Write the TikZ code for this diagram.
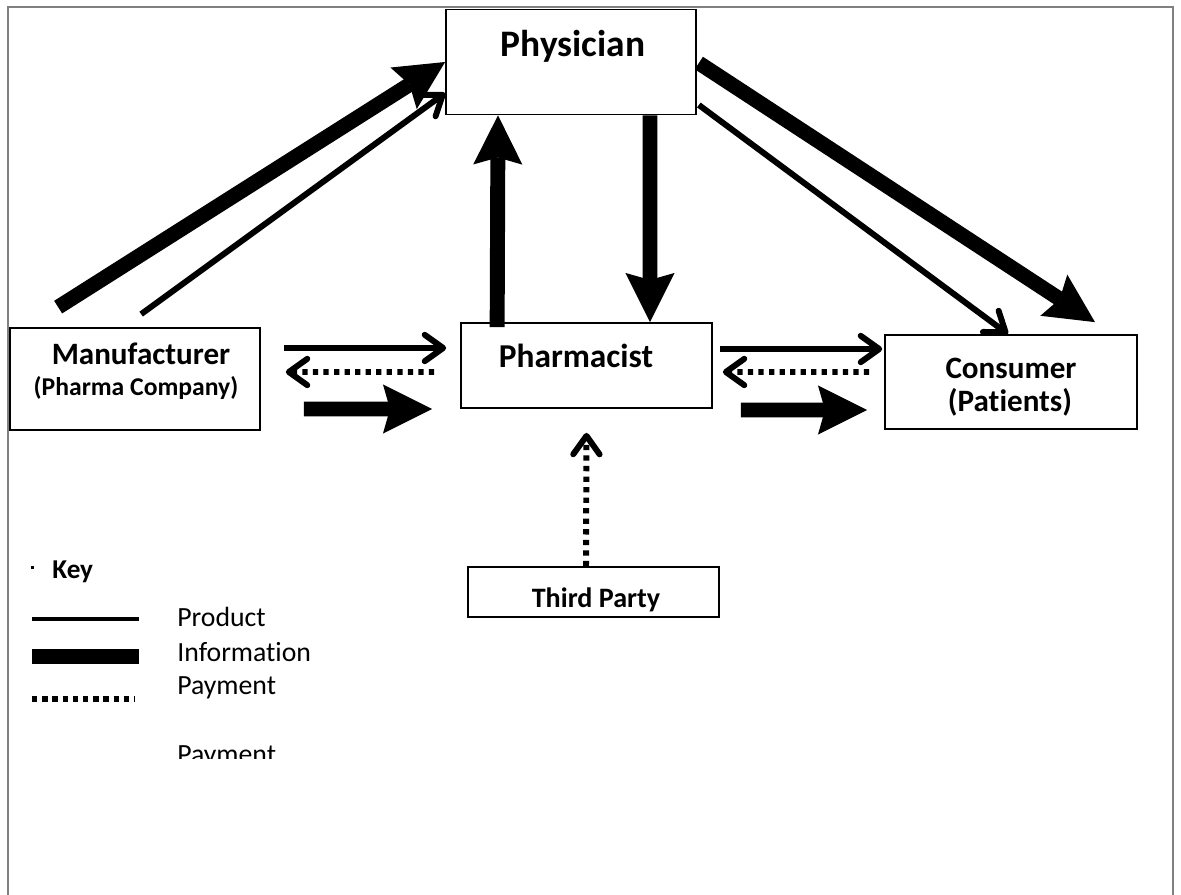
\documentclass[tikz,border=0pt]{standalone}
\usepackage{fontspec}
\setmainfont{Carlito}[Ligatures=NoCommon]
\usetikzlibrary{arrows.meta,calc}

\tikzset{
  box/.style={draw, line width=1pt, inner sep=0pt},
  info/.style={line width=8.5pt, -{Stealth[length=28pt,width=28pt,inset=4pt,line width=0pt]}},
  prod/.style={line width=3.4pt, -{Straight Barb[length=10.5pt,width=15pt,round]}},
  pay/.style={prod, dash pattern=on 3pt off 3pt},
  keytxt/.style={font=\fontsize{15.8}{19}\selectfont, anchor=base west, inner sep=0pt},
}

\begin{document}
\begin{tikzpicture}[x=0.02cm,y=-0.02cm]
  \useasboundingbox (0,0) rectangle (1181,895);
  % rahmen
  \draw[gray, line width=1pt] (8,895) -- (8,7) -- (1173,7) -- (1173,895);

  % boxes
  \node[box, minimum width=5cm, minimum height=2.1cm] (phys) at (571,62) {};
  \node[box, minimum width=5cm, minimum height=2.04cm] (manu) at (135,379) {};
  \node[box, minimum width=5.02cm, minimum height=1.7cm] (pharm) at (586.5,365.5) {};
  \node[box, minimum width=5.04cm, minimum height=1.88cm] (cons) at (1011,382) {};
  \node[box, minimum width=5.02cm, minimum height=1cm] (third) at (593.5,592) {};

  % texte
  \node[font=\fontsize{21.3}{25}\selectfont\bfseries, anchor=base] (physT) at (573,57) {Physician};
  \node[font=\fontsize{17.7}{21}\selectfont\bfseries, anchor=base] (manuT) at (141,365) {Manufacturer};
  \node[font=\fontsize{14.6}{17}\selectfont\bfseries, anchor=base] (manuT2) at (136,396) {(Pharma Company)};
  \node[font=\fontsize{19}{23}\selectfont\bfseries, anchor=base] (pharmT) at (576,368) {Pharmacist};
  \node[font=\fontsize{17.7}{21}\selectfont\bfseries, anchor=base] (consT) at (1011,378) {Consumer};
  \node[font=\fontsize{17.7}{21}\selectfont\bfseries, anchor=base] (consT2) at (1010,412) {(Patients)};
  \node[font=\fontsize{16}{19}\selectfont\bfseries, anchor=base] (thirdT) at (596,607) {Third Party};

  % pfeile
  \draw[info] ($(manu.north west)+(49,-20)$) -- (phys.west);
  \draw[prod] ($(manu.north west)+(132,-13)$) -- ($(phys.west)+(0,31)$);
  \draw[info] ($(pharm.north west)+(37,5)$) -- ($(phys.south)+(-73,0)$);
  \draw[info] ($(phys.south)+(79,0)$) -- ($(pharm.north)+(63.5,0)$);
  \draw[info] ($(phys.east)+(2,1)$) -- ($(cons.north)+(84,-12)$);
  \draw[prod] ($(phys.east)+(2,43)$) -- ($(cons.north)+(-3,0)$);

  \draw[prod] ($(manu.east)+(23,-31)$) -- ($(pharm.west)+(-14,-17.5)$);
  \draw[pay] ($(pharm.west)+(-26,6.5)$) -- ($(manu.east)+(25,-7)$);
  \draw[info] ($(manu.east)+(43,30)$) -- ($(pharm.west)+(-28,43.5)$);

  \draw[prod] ($(pharm.east)+(7,-16.5)$) -- ($(cons.west)+(-2,-33)$);
  \draw[pay] ($(cons.west)+(-15,-10)$) -- ($(pharm.east)+(10,6.5)$);
  \draw[info] ($(pharm.east)+(28,44.5)$) -- ($(cons.west)+(-17,28)$);

  \draw[pay] ($(third.north)+(-7.5,0)$) -- ($(pharm.south)+(0,24)$);

  % key
  \fill (31,566) rectangle (33.5,568.5);
  \node[keytxt, font=\fontsize{15.5}{18}\selectfont\bfseries] (keyT) at (52,578) {Key};
  \node[keytxt] (prodT) at (177,626) {Product};
  \node[keytxt] (infoT) at (177,661) {Information};
  \node[keytxt] (payT) at (177,694) {Payment};
  \draw[line width=2.3pt] ($(prodT.base west)+(-145,-7)$) -- +(107,0);
  \draw[line width=8.5pt] ($(infoT.base west)+(-145,-4.5)$) -- +(107,0);
  \draw[line width=3pt, dash pattern=on 3.1pt off 2.7pt] ($(payT.base west)+(-145,5)$) -- +(102,0);
  \begin{scope}
    \clip (150,700) rectangle (400,758);
    \node[keytxt] (payT2) at (177,763) {Payment};
  \end{scope}
\end{tikzpicture}
\end{document}
